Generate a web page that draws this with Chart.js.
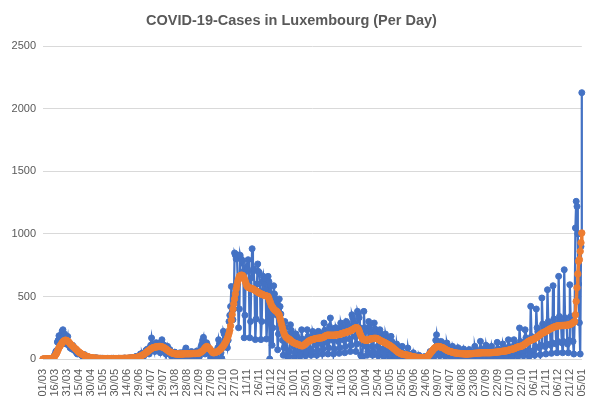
<!DOCTYPE html>
<html>
<head>
<meta charset="utf-8">
<script src="https://cdn.jsdelivr.net/npm/chart.js@4.4.1/dist/chart.umd.min.js"></script>
<style>
  body { margin: 0; background: #fff; }
  #wrap { width: 597px; height: 405px; }
</style>
</head>
<body>
<div id="wrap"><canvas id="cases-chart" width="597" height="405"></canvas></div>
<script>
// first day of the series (Sunday 01/03/2020), one value per day
const startDate = [2020, 2, 1];
const tickEvery = 15;

// daily new cases, one line per week (Sun..Sat)
const dailyCases = [
  0,0,0,0,1,1,0,
  1,2,1,3,4,7,14,
  26,38,59,67,135,150,186,
  130,190,165,224,234,180,200,
  160,120,150,180,110,130,90,
  90,80,110,100,70,80,60,
  50,40,60,55,45,40,30,
  30,20,25,35,20,25,15,
  10,8,15,12,10,8,6,
  5,4,8,6,10,5,3,
  2,3,5,4,3,6,2,
  1,2,4,3,5,2,1,
  3,2,5,4,6,3,2,
  2,3,1,4,6,3,2,
  2,4,5,3,8,6,4,
  3,5,6,8,7,10,6,
  8,12,10,15,18,20,12,
  10,18,25,40,30,45,25,
  20,35,50,70,60,80,50,
  40,60,110,168,120,100,75,
  60,90,130,115,110,125,80,
  50,80,154,100,90,110,60,
  40,60,101,80,70,75,40,
  20,30,50,45,55,50,25,
  15,30,45,40,50,40,20,
  15,35,60,50,88,55,20,
  12,30,50,45,60,50,18,
  10,35,55,50,65,45,20,
  20,50,100,120,150,173,90,
  40,70,130,110,90,80,40,
  10,30,50,60,55,45,20,
  15,60,90,154,120,110,50,
  5,90,221,200,190,208,120,
  90,150,300,350,420,580,380,
  314,400,848,830,800,834,600,
  250,400,830,800,794,780,700,
  170,350,700,740,720,794,600,
  170,300,650,882,700,720,560,
  155,320,600,760,700,690,540,
  155,300,620,661,600,640,560,
  160,300,661,620,0,586,520,
  110,250,586,520,480,450,350,
  74,200,480,420,360,300,150,
  30,90,300,250,200,20,60,
  20,60,274,230,200,180,100,
  15,50,200,180,160,150,70,
  20,40,234,160,140,130,60,
  25,50,234,180,160,170,80,
  30,60,220,200,190,180,110,
  30,70,221,210,200,190,120,
  40,80,288,230,220,210,130,
  40,90,260,328,240,230,150,
  40,80,248,250,230,220,140,
  45,90,288,260,250,240,150,
  50,100,300,288,270,260,160,
  60,110,354,330,300,280,180,
  60,120,381,360,330,250,30,
  20,10,120,381,250,220,100,
  30,60,300,260,220,200,100,
  30,60,288,240,220,200,100,
  25,50,234,200,180,170,80,
  20,40,200,170,150,130,70,
  15,35,181,140,120,60,30,
  10,20,120,80,60,50,20,
  5,10,101,50,40,35,15,
  5,10,88,40,30,25,10,
  3,8,50,25,20,18,8,
  2,5,30,15,12,10,5,
  2,4,20,12,15,10,5,
  5,15,60,50,55,60,30,
  20,60,150,194,128,140,70,
  25,55,140,128,120,110,60,
  20,45,128,100,90,85,40,
  15,40,101,80,75,70,35,
  12,35,90,70,60,55,25,
  10,30,80,60,55,50,20,
  10,25,75,60,50,45,20,
  10,30,101,70,60,50,25,
  12,35,141,80,65,60,25,
  10,30,110,75,60,55,20,
  10,30,101,70,65,60,25,
  12,35,133,80,70,65,25,
  12,40,120,90,80,75,30,
  15,45,154,100,90,80,35,
  15,50,154,120,110,95,40,
  20,60,248,140,130,110,50,
  25,70,234,170,150,140,60,
  20,40,421,180,170,160,70,
  30,100,400,250,220,210,90,
  35,110,488,280,250,230,100,
  40,120,554,300,270,250,110,
  45,130,586,320,290,270,120,
  50,140,661,340,300,280,130,
  50,140,714,330,290,270,120,
  50,150,594,340,310,300,140,
  40,300,1048,1261,1220,1000,600,
  290,40,900,2130
];

// smoothed line (orange)
const averageCases = [
  0,0,0,0,1,1,1,
  1,2,2,4,5,8,12,
  15,25,35,45,60,75,90,
  100,110,120,130,138,143,148,
  150,150,147,143,138,130,122,
  115,110,103,97,91,85,80,
  74,67,60,55,50,46,42,
  38,35,31,28,25,22,20,
  18,16,14,12,11,10,9,
  8,7,7,6,6,5,5,
  5,4,4,4,3,3,3,
  3,3,3,3,3,3,3,
  3,3,3,3,3,3,3,
  3,3,3,3,4,4,4,
  4,4,4,5,5,5,5,
  5,6,6,6,7,7,7,
  8,9,9,10,11,12,12,
  15,18,20,23,26,29,32,
  35,40,45,50,55,60,65,
  70,75,80,85,88,90,92,
  95,96,97,98,99,100,100,
  100,99,97,95,92,88,84,
  80,75,70,65,60,56,53,
  50,47,45,43,42,41,40,
  40,40,39,39,40,40,40,
  40,41,41,42,42,42,42,
  42,42,42,43,43,43,44,
  44,44,44,45,45,45,45,
  48,52,56,60,65,72,80,
  88,95,100,98,92,86,80,
  72,64,56,50,50,51,53,
  55,57,60,65,70,75,82,
  90,98,105,115,125,138,150,
  165,185,205,230,265,310,355,
  400,440,480,520,560,590,620,
  640,660,665,670,670,668,660,
  645,630,610,590,580,575,570,
  568,566,565,563,560,555,552,
  548,544,540,536,530,527,524,
  521,518,515,513,510,508,506,
  504,502,500,485,465,450,430,
  420,410,400,393,387,385,380,
  370,362,350,325,300,275,250,
  225,205,190,180,172,168,164,
  160,155,150,145,138,133,130,
  127,124,121,120,118,115,112,
  110,107,106,105,107,112,117,
  122,128,133,138,143,147,150,
  152,154,156,158,160,162,164,
  165,165,166,167,168,169,170,
  170,173,177,181,185,188,190,
  191,191,190,190,190,190,190,
  190,190,191,192,193,194,195,
  196,198,200,202,204,206,208,
  210,212,214,216,218,220,223,
  225,228,232,236,240,244,248,
  250,250,248,240,225,205,190,
  175,165,158,155,152,150,150,
  150,152,155,158,160,161,162,
  163,164,165,165,165,164,162,
  158,154,150,146,142,140,137,
  134,131,128,124,120,117,113,
  110,106,101,96,91,86,80,
  75,70,64,59,54,50,47,
  44,41,39,37,36,35,34,
  33,31,30,28,26,24,22,
  20,19,18,17,15,14,13,
  12,12,11,11,11,10,10,
  10,10,10,11,13,16,22,
  28,36,44,52,60,68,76,
  85,90,94,97,99,100,100,
  98,96,94,92,90,86,82,
  78,74,70,67,64,62,60,
  58,56,54,52,50,49,48,
  47,46,45,45,44,43,43,
  42,42,41,41,40,40,40,
  40,41,41,42,42,43,43,
  44,45,45,46,46,47,47,
  48,48,49,49,50,50,50,
  50,50,50,50,50,50,50,
  50,51,51,52,52,53,54,
  54,55,55,56,57,58,59,
  60,61,62,63,63,64,65,
  66,68,70,72,74,76,78,
  79,80,82,85,88,91,94,
  96,98,100,100,101,104,108,
  112,116,120,125,130,135,140,
  143,147,150,153,155,158,160,
  163,167,171,175,180,185,190,
  195,200,205,208,211,214,217,
  220,224,228,232,236,240,243,
  246,249,252,255,258,260,262,
  264,265,266,266,267,267,268,
  268,268,269,269,270,270,271,
  272,274,275,278,282,286,290,
  295,300,354,461,570,680,781,
  795,861,930,1008
];

const yTicks = [0, 500, 1000, 1500, 2000, 2500];

// build the dd/mm category for every day
function pad(n){
  return (n < 10 ? '0' : '') + n;
}
let dayLabels = [];
for (let i = 0; i < dailyCases.length; i++) {
  let d = new Date(startDate[0], startDate[1], startDate[2] + i);
  dayLabels.push(pad(d.getDate()) + '/' + pad(d.getMonth() + 1));
}

const grey = '#595959';
const fontName = "'Liberation Sans', Arial, sans-serif";

var ctx = document.getElementById('cases-chart').getContext('2d');

new Chart(ctx, {
  type: 'line',
  data: {
    labels: dayLabels,
    datasets: [{
        label: 'Average',
        data: averageCases,
        borderColor: '#ED7D31',
        backgroundColor: '#ED7D31',
        borderWidth: 3.5,
        pointRadius: 3.2,
        pointBorderWidth: 1,
        tension: 0,
        order: 0
      }, {
        label: 'Cases',
        data: dailyCases,
        borderColor: '#4472C4',
        backgroundColor: '#4472C4',
        borderWidth: 2.25,
        pointRadius: 3,
        pointBorderWidth: 1,
        tension: 0,
        order: 1
      }
    ]
  },
  options: {
    responsive: false,
    animation: false,
    layout: { padding: { left: 0, right: 14, top: 0, bottom: 0 } },
    plugins: {
      legend: { display: false },
      tooltip: { enabled: false },
      title: {
        display: true,
        text: 'COVID-19-Cases in Luxembourg (Per Day)',
        color: grey,
        font: { family: fontName, size: 14.5, weight: 'bold' },
        padding: { top: 12, bottom: 17 }
      }
    },
    scales: {
      x: {
        grid: { display: false },
        border: { color: '#d9d9d9' },
        ticks: {
          autoSkip: false,
          maxRotation: 90,
          minRotation: 90,
          color: grey,
          padding: 2,
          font: { family: fontName, size: 11 },
          callback: function(value, index) {
            return index % tickEvery === 0 ? dayLabels[index] : '';
          }
        },
        afterFit: function(scale) { scale.height = 46; }
      },
      y: {
        min: yTicks[0],
        max: yTicks[yTicks.length - 1],
        border: { display: false },
        grid: { color: '#d9d9d9', drawTicks: false },
        ticks: {
          stepSize: yTicks[1] - yTicks[0],
          color: grey,
          padding: 7,
          font: { family: fontName, size: 11 },
          callback: function(value) { return String(value); }
        },
        afterFit: function(scale) { scale.width = 43; }
      }
    }
  }
});
</script>
</body>
</html>
